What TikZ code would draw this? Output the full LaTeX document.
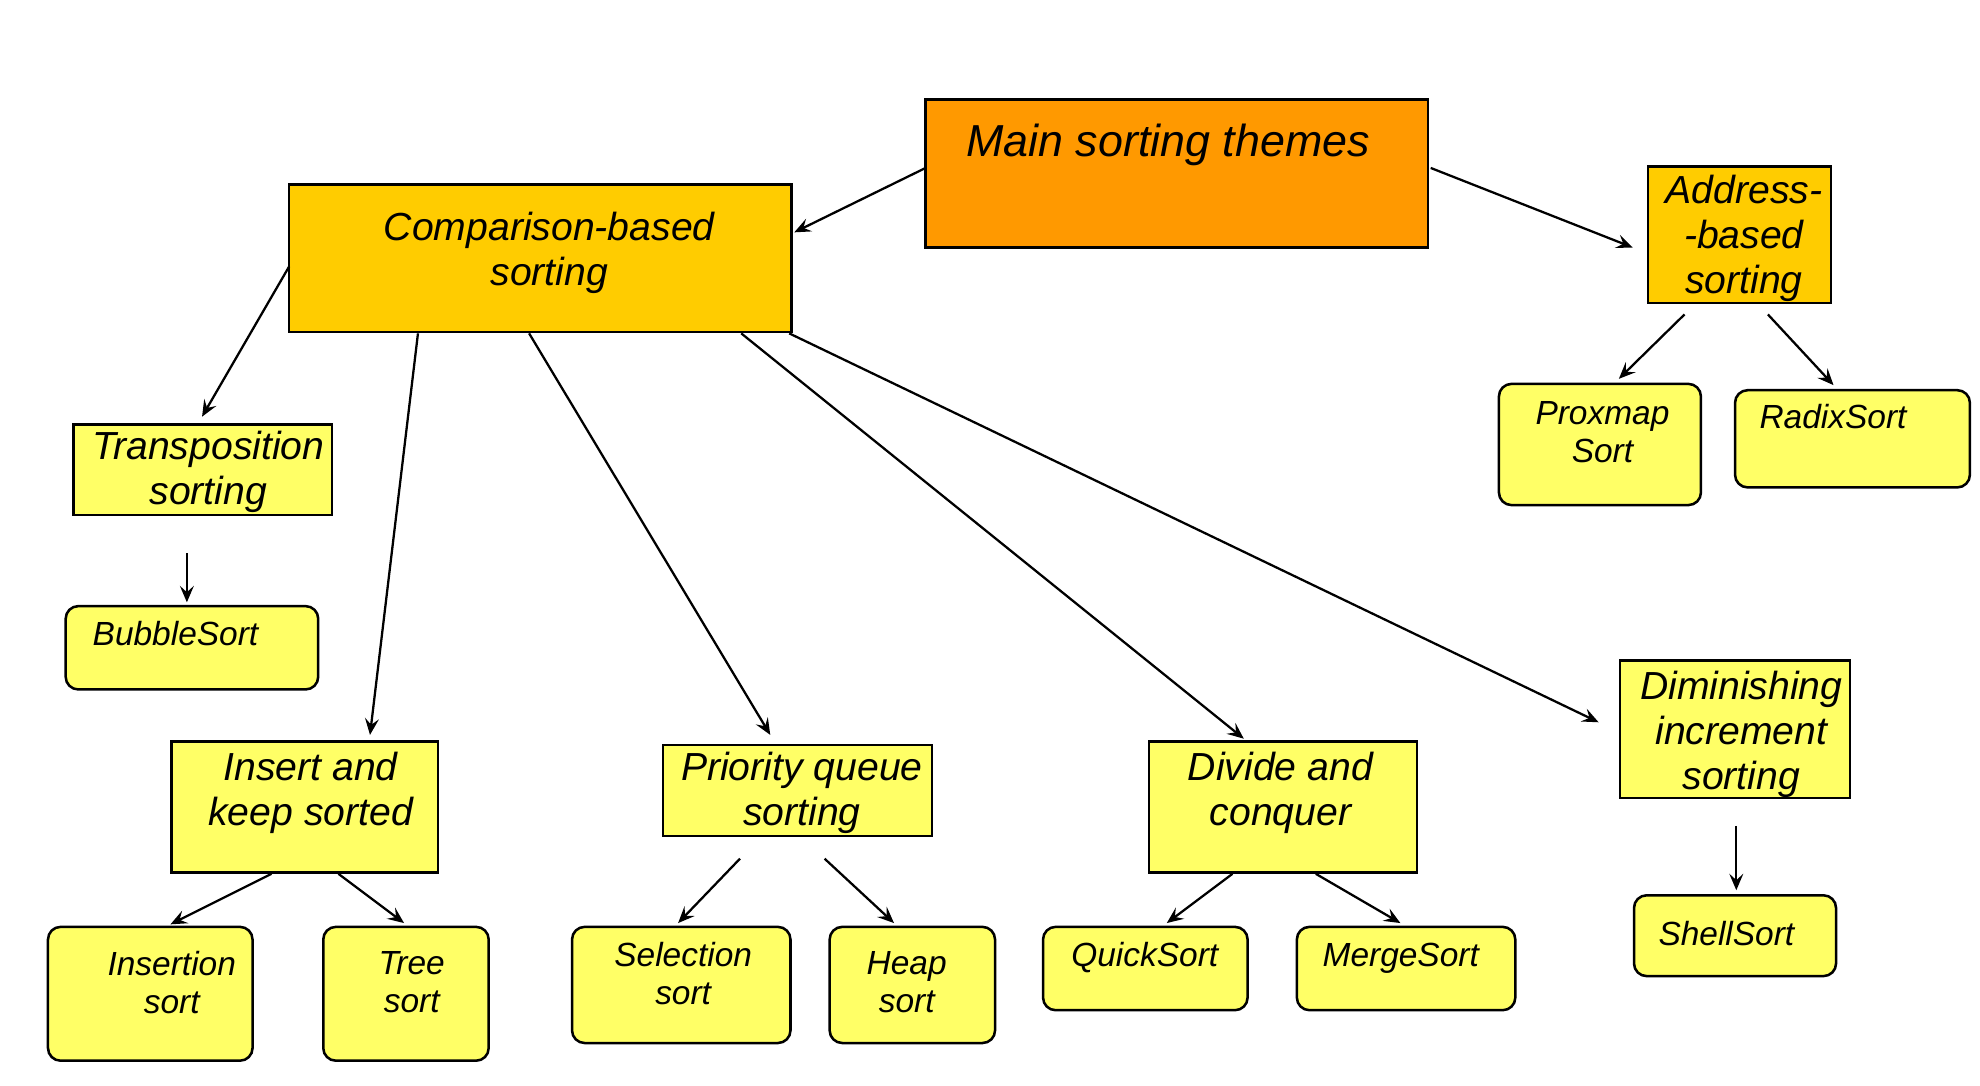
\documentclass[tikz,border=0pt]{standalone}
\usepackage{fontspec}
\setmainfont{Liberation Sans}
\usetikzlibrary{arrows.meta}
\definecolor{cMain}{HTML}{FF9900}
\definecolor{cMid}{HTML}{FFCC00}
\definecolor{cLeaf}{HTML}{FFFF66}
\tikzset{
  boxbase/.style={draw=black, line width=1pt, inner sep=0pt},
  mainbox/.style={boxbase, fill=cMain},
  midbox/.style={boxbase, fill=cMid},
  catbox/.style={boxbase, fill=cLeaf},
  leafbox/.style={boxbase, fill=cLeaf, rounded corners=5pt},
  bigtxt/.style={inner sep=0pt, font=\fontsize{17.75}{21}\selectfont\itshape},
  midtxt/.style={inner sep=0pt, align=center, font=\fontsize{15.5}{17.75}\selectfont\itshape},
  smalltxt/.style={inner sep=0pt, align=center, font=\fontsize{13.25}{15}\selectfont\itshape},
  arr/.style={line width=0.9pt, -{Stealth[length=6.5pt,width=5.5pt,inset=2.5pt]}}
}
\begin{document}
\begin{tikzpicture}[x=0.5pt,y=-0.5pt]
\useasboundingbox[fill=white] (0,0) rectangle (1568,860);
% boxes
\node[mainbox, minimum width=199pt, minimum height=58.5pt] (main) at (932,137.5) {};
\node[midbox, minimum width=199pt, minimum height=58.5pt] (comp) at (428,204.5) {};
\node[midbox, minimum width=72.5pt, minimum height=54pt] (addr) at (1377.5,186) {};
\node[catbox, minimum width=102.5pt, minimum height=36pt] (trans) at (160.5,372) {};
\node[leafbox, minimum width=100pt, minimum height=33pt] (bubble) at (152,513) {};
\node[catbox, minimum width=105.5pt, minimum height=52pt] (insk) at (241.5,639) {};
\node[catbox, minimum width=106.5pt, minimum height=36pt] (prio) at (631.5,626) {};
\node[catbox, minimum width=106pt, minimum height=52pt] (divide) at (1016,639) {};
\node[catbox, minimum width=91pt, minimum height=54.5pt] (dimin) at (1374,577.5) {};
\node[leafbox, minimum width=80pt, minimum height=48pt] (proxmap) at (1267,352) {};
\node[leafbox, minimum width=93pt, minimum height=38.5pt] (radix) at (1467,347.5) {};
\node[leafbox, minimum width=81pt, minimum height=53pt] (insertion) at (119,787) {};
\node[leafbox, minimum width=65.5pt, minimum height=53pt] (tree) at (321.5,787) {};
\node[leafbox, minimum width=86.5pt, minimum height=46pt] (selection) at (539.5,780) {};
\node[leafbox, minimum width=65.5pt, minimum height=46pt] (heap) at (722.5,780) {};
\node[leafbox, minimum width=81pt, minimum height=33pt] (quick) at (907,767) {};
\node[leafbox, minimum width=86.5pt, minimum height=33pt] (merge) at (1113.5,767) {};
\node[leafbox, minimum width=80pt, minimum height=32pt] (shell) at (1374,741) {};
% texts
\node[bigtxt, anchor=base] (mainT) at (925,124) {Main sorting themes};
\node[midtxt] (compT) at (435,200.5) {Comparison-based\\sorting};
\node[midtxt] (addrT) at (1381,189) {Address-\\-based\\sorting};
\node[midtxt] (transT) at (165,374) {Transposition\\sorting};
\node[midtxt] (inskT) at (246,628) {Insert and\\keep sorted};
\node[midtxt] (prioT) at (635,628) {Priority queue\\sorting};
\node[midtxt] (divideT) at (1014,628) {Divide and\\conquer};
\node[midtxt] (diminT) at (1379,581.5) {Diminishing\\increment\\sorting};
\node[smalltxt] (proxmapT) at (1269,342) {Proxmap\\Sort};
\node[smalltxt] (insertionT) at (136,778) {Insertion\\sort};
\node[smalltxt] (treeT) at (326,778) {Tree\\sort};
\node[smalltxt] (selectionT) at (541,771) {Selection\\sort};
\node[smalltxt] (heapT) at (718,778) {Heap\\sort};
\node[smalltxt, anchor=base west] (bubbleT) at (73,511) {BubbleSort};
\node[smalltxt, anchor=base west] (radixT) at (1393,339) {RadixSort};
\node[smalltxt, anchor=base west] (quickT) at (848,765) {QuickSort};
\node[smalltxt, anchor=base west] (mergeT) at (1047,765) {MergeSort};
\node[smalltxt, anchor=base west] (shellT) at (1313,749) {ShellSort};
% connector end points
\coordinate (e1a) at (733,133);  \coordinate (e1b) at (629,184);
\coordinate (e2a) at (1133,133); \coordinate (e2b) at (1293,196);
\coordinate (e3a) at (229,211);  \coordinate (e3b) at (160,330);
\coordinate (e4a) at (331,264);  \coordinate (e4b) at (293,582);
\coordinate (e5a) at (419,264);  \coordinate (e5b) at (610,582);
\coordinate (e6a) at (587,264);  \coordinate (e6b) at (985,585);
\coordinate (e7a) at (625,264);  \coordinate (e7b) at (1266,572);
\coordinate (e8a) at (148,438);  \coordinate (e8b) at (148,477);
\coordinate (e9a) at (1334,249); \coordinate (e9b) at (1282,300);
\coordinate (e10a) at (1400,249); \coordinate (e10b) at (1452,305);
\coordinate (e11a) at (215,692); \coordinate (e11b) at (135,732);
\coordinate (e12a) at (268,692); \coordinate (e12b) at (320,731);
\coordinate (e13a) at (586,680); \coordinate (e13b) at (537,731);
\coordinate (e14a) at (653,680); \coordinate (e14b) at (708,731);
\coordinate (e15a) at (976,692); \coordinate (e15b) at (924,731);
\coordinate (e16a) at (1042,692); \coordinate (e16b) at (1109,731);
\coordinate (e17a) at (1375,654); \coordinate (e17b) at (1375,705);
% connectors
\foreach \i in {1,...,17} { \draw[arr] (e\i a) -- (e\i b); }
\end{tikzpicture}
\end{document}
